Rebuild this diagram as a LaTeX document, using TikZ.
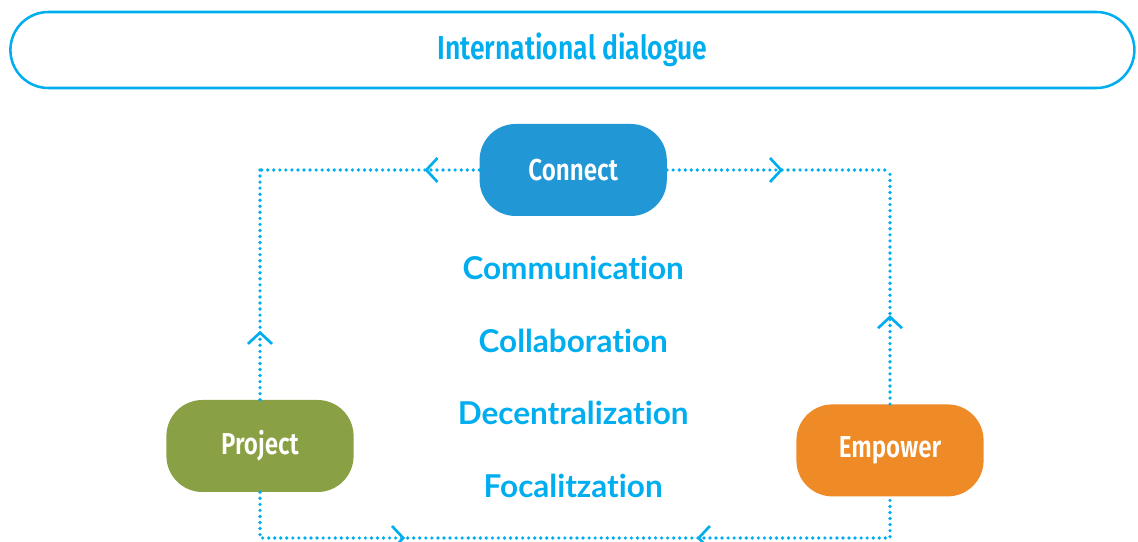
\documentclass[tikz,border=0pt]{standalone}
\usepackage{fontspec}
\setmainfont[Ligatures=NoCommon]{Lato}
\newfontfamily\condfont[FakeStretch=0.8, BoldFont={Fira Sans SemiBold}]{Fira Sans}
\usetikzlibrary{positioning}
\usetikzlibrary{arrows.meta}
\usetikzlibrary{decorations.markings}

\definecolor{skyblue}{HTML}{00AEEF}
\definecolor{connectblue}{HTML}{2297D5}
\definecolor{projectgreen}{HTML}{89A044}
\definecolor{empowerorange}{HTML}{EE8B27}

\tikzset{
    banner/.style={draw=skyblue, line width=1.8pt, rounded corners=0.95cm,
        minimum width=28.1cm, minimum height=1.9cm,
        text=skyblue, font=\condfont\bfseries\fontsize{23.6}{28}\selectfont},
    pill/.style={fill=#1, rounded corners=0.9cm, minimum width=4.68cm,
        minimum height=2.3cm, text=white,
        font=\condfont\bfseries\fontsize{21.5}{25}\selectfont},
    keyword/.style={text=skyblue, font=\bfseries\fontsize{22.4}{26}\selectfont},
    link/.style={draw=skyblue, line width=2.6pt, line cap=round,
        dash pattern=on 0pt off 4.3pt},
    chev/.tip={Straight Barb[length=2.8mm, width=6mm, line width=1.9pt]},
    arrowat/.style={postaction={decorate}, decoration={markings,
        mark=at position #1 with {\arrow{chev}}}}
}

\begin{document}
\begin{tikzpicture}
    \useasboundingbox (0,0) rectangle (28.45,-13.55);

    \node[banner] (dialogue) at (14.31,-1.25) {International dialogue};

    \node[pill=connectblue] (connect) at (14.33,-4.25) {Connect};
    \node[pill=projectgreen] (project) at (6.5,-11.15) {Project};
    \node[pill=empowerorange] (empower) at (22.25,-11.26) {Empower};

    \node[keyword] (communication) at (14.33,-6.7) {Communication};
    \node[keyword] (collaboration) at (14.33,-8.525) {Collaboration};
    \node[keyword] (decentralization) at (14.33,-10.325) {Decentralization};
    \node[keyword] (focalitzation) at (14.33,-12.15) {Focalitzation};

    % corners of the loop
    \coordinate (tl) at (6.5,-4.25);
    \coordinate (tr) at (22.25,-4.25);
    \coordinate (bl) at (6.5,-13.45);
    \coordinate (br) at (22.25,-13.45);

    \draw[link, arrowat=0.25] (connect.west) -- (tl);
    \draw[link, arrowat=0.52] (connect.east) -- (tr);
    \draw[link, arrowat=0.30] (project.north) -- (tl);
    \draw[link, arrowat=0.38] (empower.north) -- (tr);
    \draw[link, postaction={decorate}, decoration={markings,
        mark=at position 0.266 with {\arrow{chev}},
        mark=at position 0.673 with {\arrowreversed{chev}}}]
        (project.south) -- (bl) -- (br) -- (empower.south);
\end{tikzpicture}
\end{document}
